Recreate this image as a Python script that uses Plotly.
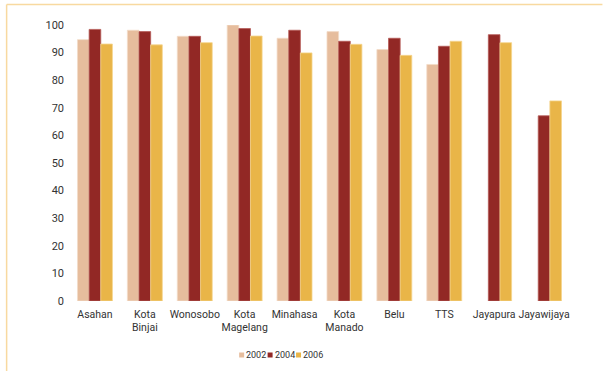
import plotly.graph_objects as go

# Districts and yearly values (percent)
districts = ["Asahan", "Kota<br>Binjai", "Wonosobo", "Kota<br>Magelang", "Minahasa",
             "Kota<br>Manado", "Belu", "TTS", "Jayapura", "Jayawijaya"]
years = ["2002", "2004", "2006"]
v2002 = [94.7, 98.1, 95.9, 100.0, 95.2, 97.6, 91.1, 85.7, None, None]
v2004 = [98.4, 97.6, 95.9, 98.7, 98.1, 94.1, 95.2, 92.3, 96.5, 67.1]
v2006 = [93.1, 92.8, 93.6, 96.0, 89.9, 93.0, 89.0, 94.1, 93.6, 72.5]
y_ticks = [0, 10, 20, 30, 40, 50, 60, 70, 80, 90, 100]

colors = ["#E6BD9D", "#922825", "#E9B548"]
edges = ["#F3DCC8", "#B55A57", "#F5D58E"]
series = [v2002, v2004, v2006]

FONT = "Roboto, sans-serif"
TXT = "#333333"

fig = go.Figure()
for name, vals, c, e in zip(years, series, colors, edges):
    fig.add_trace(go.Bar(
        x=districts, y=vals, name=name,
        marker=dict(color=c, line=dict(color=e, width=0.8)),
        showlegend=False,
    ))

L, R, T, B = 69.5, 33.5, 25, 70
W, H = 603, 371
pw, ph = W - L - R, H - T - B


def px_x(x):
    return (x - L) / pw


def px_y(y):
    return (H - B - y) / ph


shapes = [
    # thin frame on top and left
    dict(type="line", xref="paper", yref="paper",
         x0=px_x(6), x1=px_x(603), y0=px_y(4.5), y1=px_y(4.5),
         line=dict(color="#F8D9A0", width=1.5)),
    dict(type="line", xref="paper", yref="paper",
         x0=px_x(6), x1=px_x(6), y0=px_y(4.5), y1=px_y(371),
         line=dict(color="#F8D9A0", width=1.5)),
]

# compact legend row
annotations = []
legend_x = [239, 267.5, 296]
ly = 355
for lx, name, c in zip(legend_x, years, colors):
    shapes.append(dict(type="rect", xref="paper", yref="paper",
                       x0=px_x(lx), x1=px_x(lx + 5),
                       y0=px_y(ly + 2.5), y1=px_y(ly - 2.5),
                       fillcolor=c, line=dict(width=0)))
    annotations.append(dict(xref="paper", yref="paper",
                            x=px_x(lx + 6), y=px_y(ly),
                            xanchor="left", yanchor="middle",
                            text=name, showarrow=False, borderpad=0,
                            font=dict(family=FONT, size=9, color=TXT)))

fig.update_layout(
    width=W, height=H,
    margin=dict(l=L, r=R, t=T, b=B),
    paper_bgcolor="white", plot_bgcolor="white",
    barmode="group", bargap=0.3, bargroupgap=0,
    shapes=shapes, annotations=annotations,
    xaxis=dict(showgrid=False, showline=False, zeroline=False, ticks="",
               tickangle=0, ticklabelstandoff=5,
               tickfont=dict(family=FONT, size=10.5, color=TXT)),
    yaxis=dict(range=[0, 100], tickvals=y_ticks, showgrid=False,
               showline=False, zeroline=False, ticks="",
               ticklabelstandoff=5,
               tickfont=dict(family=FONT, size=11, color=TXT)),
)

fig.write_html("out.html")
